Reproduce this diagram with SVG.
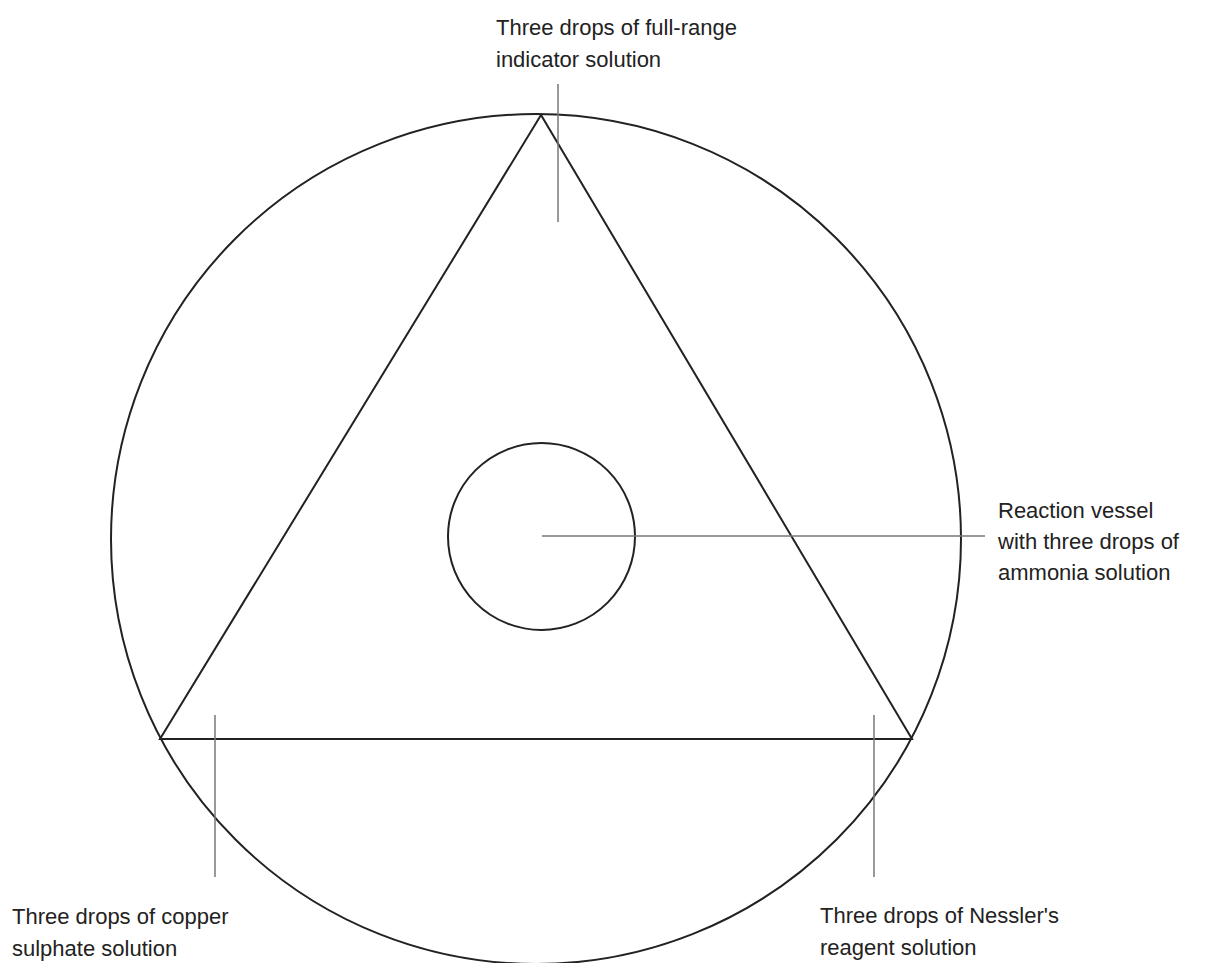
<svg xmlns="http://www.w3.org/2000/svg" width="1223" height="963" viewBox="0 0 1223 963">
<style>
.shape{fill:none;stroke:#222;stroke-width:2}
.lead{fill:none;stroke:#777;stroke-width:1.5}
text{font-family:"Liberation Sans",Arial,sans-serif;font-size:22px;fill:#222}
</style>
<rect width="1223" height="963" fill="#fff"/>
<g id="dish"><circle class="shape" cx="536" cy="539" r="425"/></g>
<g id="triangle"><polygon class="shape" points="541,115 160,739 912,739" stroke-linejoin="miter"/></g>
<g id="vessel"><circle class="shape" cx="541.5" cy="536.5" r="93.5"/></g>
<g id="connectors">
<line class="lead" x1="558" y1="84" x2="558" y2="222"/>
<line class="lead" x1="542" y1="536" x2="985" y2="536"/>
<line class="lead" x1="215" y1="715" x2="215" y2="877"/>
<line class="lead" x1="874" y1="715" x2="874" y2="877"/>
</g>
<g id="label-indicator"><text x="496" y="35">Three drops of full-range</text><text x="496" y="67">indicator solution</text></g>
<g id="label-vessel"><text x="998" y="518">Reaction vessel</text><text x="998" y="549">with three drops of</text><text x="998" y="580">ammonia solution</text></g>
<g id="label-copper"><text x="12" y="924">Three drops of copper</text><text x="12" y="956">sulphate solution</text></g>
<g id="label-nessler"><text x="820" y="923">Three drops of Nessler's</text><text x="820" y="955">reagent solution</text></g>
</svg>
